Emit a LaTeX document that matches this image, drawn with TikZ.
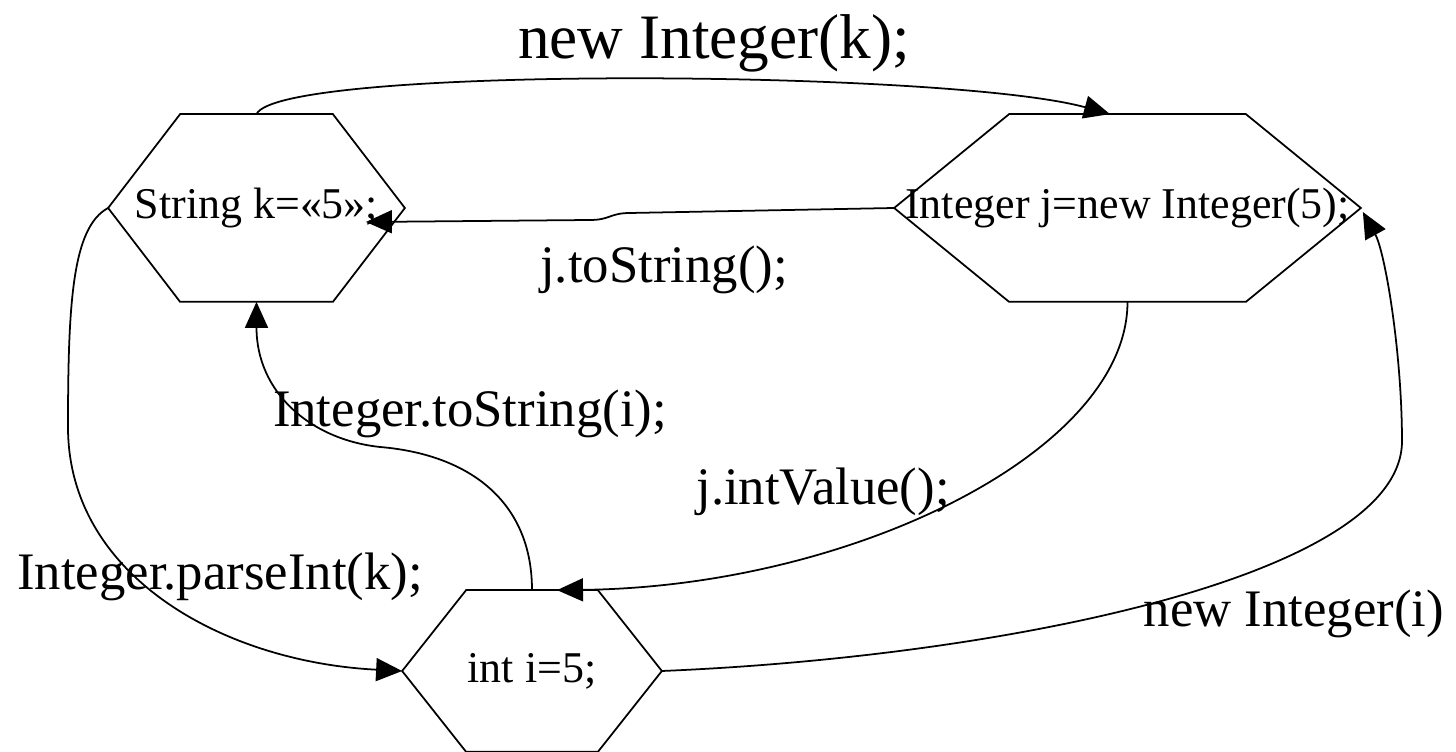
\documentclass[tikz,border=0pt]{standalone}
\usepackage{fontspec}
\setmainfont{Liberation Serif}
\usetikzlibrary{arrows.meta}

% outline of a six-sided box round a node, #2 = length of the slanted part
\newcommand{\hexframe}[2]{%
  \draw (#1.west) -- ([xshift=#2]#1.north west) -- ([xshift=-#2]#1.north east) -- (#1.east)
    -- ([xshift=-#2]#1.south east) -- ([xshift=#2]#1.south west) -- cycle;}

\begin{document}
\begin{tikzpicture}[line width=1pt, >={Triangle[length=0.52cm,width=0.46cm]},
    state/.style={rectangle,inner sep=0pt,minimum height=3.72cm,font=\fontsize{25}{30}\selectfont},
    lbl/.style={anchor=base,inner sep=0pt,font=\fontsize{30}{36}\selectfont}]
    \useasboundingbox (0,0) rectangle (29.12,15.04);
    \node[state,minimum width=5.9cm] (s) at (5.13,10.88) {String k=«5»;};
    \node[state,minimum width=9.3cm] (j) at (22.55,10.88) {Integer j=new Integer(5);};
    \node[state,minimum width=5.16cm,minimum height=3.2cm] (i) at (10.64,1.62) {int i=5;};
    %Hexagon outlines
    \hexframe{s}{1.44cm}
    \hexframe{j}{2.3cm}
    \hexframe{i}{1.28cm}
    %Conversions
    \draw[->] (s.north) .. controls (5.6,13.74) and (19,13.64) .. ([xshift=-0.35cm]j.north);
    \draw[->] (j.west) -- (12.6,10.78) .. controls (12.2,10.78) and (12.2,10.64) .. (11.8,10.64)
        -- ([shift={(-0.78,-0.28)}]s.east);
    \draw[->] (j.south) .. controls (22.55,6.0) and (17,3.3) .. ([xshift=0.5cm]i.north);
    \draw[->] (i.north) .. controls (10.64,5.0) and (9.4,5.95) .. (7.6,6.1)
        .. controls (6.2,6.25) and (5.13,7.2) .. (s.south);
    \draw[->] (s.west) .. controls (1.45,10.5) and (1.36,9.0) .. (1.36,6.5)
        .. controls (1.36,3.5) and (4.5,1.8) .. (i.west);
    \draw[->] (i.east) .. controls (20,1.9) and (28,3.5) .. (28.04,6.2)
        .. controls (28.04,8.0) and (27.7,10.0) .. ([shift={(0.04,-0.08)}]j.east);
    %Labels
    \node[lbl,font=\fontsize{36}{43}\selectfont] (newk) at (14.28,13.86) {new Integer(k);};
    \node[lbl] (tostrj) at (13.28,9.38) {j.toString();};
    \node[lbl] (tostri) at (9.4,6.5) {Integer.toString(i);};
    \node[lbl] (intval) at (16.46,4.94) {j.intValue();};
    \node[lbl] (parse) at (4.4,3.24) {Integer.parseInt(k);};
    \node[lbl] (newi) at (25.88,2.5) {new Integer(i)};
\end{tikzpicture}
\end{document}
